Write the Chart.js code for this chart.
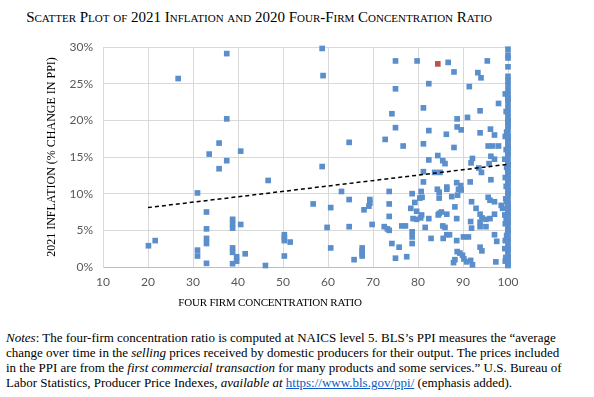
<!DOCTYPE html>
<html>
<head>
<meta charset="utf-8">
<script src="https://cdn.jsdelivr.net/npm/chart.js@4.4.1/dist/chart.umd.min.js"></script>
<style>
  body { margin: 0; width: 594px; height: 397px; background: #fff; position: relative; overflow: hidden; }
  #title { position: absolute; left: 6px; top: 7px; width: 506px; text-align: center;
    font: 15px "Liberation Serif", serif; font-variant: small-caps; line-height: 20px; color: #000; }
  #wrap { position: absolute; left: 0; top: 0; width: 594px; height: 300px; }
  #xtitle { position: absolute; left: 120px; width: 300px; top: 294px; text-align: center; white-space: nowrap;
    font: 11px "Liberation Serif", serif; letter-spacing: -0.2px; line-height: 16px; color: #000; }
  #notes { position: absolute; left: 6px; top: 330px; width: 506px;
    font: 13px "Liberation Serif", serif; line-height: 15px; color: #000; }
  #notes div { text-align: justify; text-align-last: justify; white-space: nowrap; }
  #notes div.last { text-align-last: left; }
  #notes a { color: #0b5bc9; text-decoration: underline; }
</style>
</head>
<body>
<div id="title">Scatter Plot of 2021 Inflation and 2020 Four-Firm Concentration Ratio</div>
<div id="wrap"><canvas id="scatterChart" width="594" height="300"></canvas></div>
<div id="xtitle">FOUR FIRM CONCENTRATION RATIO</div>
<div id="notes">
  <div><i>Notes</i>: The four-firm concentration ratio is computed at NAICS level 5. BLS’s PPI measures the “average</div>
  <div>change over time in the <i>selling</i> prices received by domestic producers for their output. The prices included</div>
  <div>in the PPI are from the <i>first commercial transaction</i> for many products and some services.” U.S. Bureau of</div>
  <div class="last">Labor Statistics, Producer Price Indexes, <i>available at</i> <a href="#">https://www.bls.gov/ppi/</a> (emphasis added).</div>
</div>
<script>
// four-firm concentration ratio (x) and 2021 inflation in % (y)
var concentration = [
  37.5, 26.7, 37.5, 35.8, 33.6, 37.5, 35.8, 40.6, 31.0, 33.0, 33.0, 33.0, 33.0, 33.0, 31.0, 31.0,
  20.1, 21.6, 38.8, 38.8, 38.8, 40.6, 38.8, 38.8, 38.8, 39.7, 39.7,
  58.7, 58.9, 75.0, 75.0, 74.2, 75.0, 72.7, 76.7, 64.7, 46.7, 58.7, 63.0, 64.7, 56.7, 60.6,
  69.3, 69.3, 69.1, 68.0, 73.6, 73.6, 73.6, 59.8, 64.7, 69.8, 72.5, 73.2, 73.6, 76.4, 77.2,
  50.3, 50.3, 50.3, 51.6, 50.3, 41.6, 46.1, 60.6, 65.8, 67.6, 67.6, 67.6, 67.6, 74.2, 75.8, 75.0, 77.5,
  79.8, 86.7, 88.0, 93.3, 94.0, 95.4, 82.4, 91.4, 81.2, 93.8, 97.9, 88.7, 91.0, 88.7, 89.6, 82.4,
  86.3, 93.8, 96.1, 97.0, 81.2, 88.0, 95.6, 96.6, 97.9, 82.4, 84.4, 85.5, 86.0, 91.8, 92.1, 93.5,
  96.2, 97.0, 95.8, 81.2, 81.2, 83.7, 84.9, 91.6, 94.1, 96.2, 88.6, 89.5, 89.0, 89.6, 86.4, 86.4,
  84.3, 84.7, 78.7, 80.7, 80.9, 87.5, 88.8, 84.7, 79.3, 80.4, 91.9, 95.6, 96.0, 97.0, 98.5, 98.8,
  88.2, 78.4, 79.7, 84.7, 84.5, 85.2, 86.4, 80.8, 78.9, 79.7, 80.6, 82.4, 88.6, 92.9, 93.8, 94.2,
  93.8, 95.1, 96.0, 93.8, 95.1, 97.0, 91.7, 91.9, 78.7, 81.6, 85.5, 86.0, 86.4, 85.6, 87.0, 78.7,
  78.7, 82.9, 88.6, 90.1, 91.2, 97.0, 97.5, 93.8, 94.2, 87.9, 88.2, 88.7, 89.3, 89.9, 90.2, 90.8,
  91.7, 92.1, 97.3,
  100, 100, 100, 100, 100, 100, 100, 100, 100, 100, 100, 100, 100, 100, 100, 100,
  100, 100, 100, 100, 100, 100, 100, 100, 100, 100, 100, 100, 100, 100, 100, 100,
  100, 100, 100, 100, 100, 100, 100, 100, 100, 100, 100, 100, 100, 100, 100, 100,
  100, 100, 100, 100, 100, 100, 100, 100, 100, 100, 100, 100, 100, 100, 100, 100,
  100, 100, 100,
  99.4, 99.4, 99.3, 99.4, 99.5, 99.3, 99.4, 99.4, 99.3, 99.5, 99.4,
  99.6, 99.7, 99.6, 99.7, 99.6, 99.7, 99.6, 99.7
];
var inflation = [
  29.1, 25.7, 20.2, 16.9, 15.4, 14.5, 13.4, 15.8, 10.1, 7.5, 5.2, 3.9, 3.2, 0.5, 2.3, 1.5,
  2.9, 3.6, 6.5, 5.9, 5.3, 5.8, 2.6, 2.0, 0.45, 1.4, 0.8,
  29.8, 26.1, 28.1, 24.3, 20.9, 19.0, 17.4, 16.5, 17.0, 11.8, 13.7, 10.3, 9.2, 8.6, 8.1,
  9.2, 8.7, 8.3, 7.8, 10.3, 8.6, 6.9, 5.4, 5.5, 5.8, 5.5, 5.2, 5.0, 5.6, 5.6,
  4.4, 4.0, 3.6, 3.4, 1.5, 1.8, 0.2, 2.6, 1.0, 2.6, 2.2, 1.8, 1.5, 3.2, 2.7, 1.2, 1.4,
  28.1, 27.9, 26.6, 26.5, 25.8, 28.1, 25.0, 24.6, 21.7, 21.3, 22.3, 20.2, 20.4, 19.1, 18.7, 18.6,
  18.1, 18.3, 18.8, 18.0, 16.8, 16.3, 16.5, 16.5, 16.5, 14.6, 15.2, 14.5, 14.1, 14.2, 14.8, 13.5,
  15.1, 14.7, 14.1, 13.0, 11.6, 12.9, 12.9, 11.6, 12.9, 11.9, 11.5, 11.1, 10.6, 10.5, 10.9, 10.6,
  10.6, 10.2, 10.0, 10.3, 9.5, 9.6, 9.8, 9.4, 8.8, 9.4, 8.9, 9.5, 9.1, 8.9, 8.4, 8.0,
  8.2, 8.0, 7.6, 7.3, 7.1, 7.5, 7.2, 7.1, 6.6, 6.5, 6.7, 6.6, 6.6, 8.0, 7.2, 6.7,
  6.1, 6.5, 6.6, 5.5, 5.5, 7.2, 6.2, 5.3, 4.8, 5.4, 5.6, 5.4, 4.4, 3.9, 4.4, 4.1,
  3.2, 3.9, 3.6, 4.1, 4.1, 4.4, 3.5, 2.7, 2.2, 0.6, 1.0, 2.1, 1.9, 1.6, 1.1, 0.7,
  0.9, 0.3, 0.7,
  29.7, 28.9, 28.5, 27.3, 26.0, 24.8, 24.1, 23.5, 22.9, 22.3, 21.6, 21.0, 20.5, 19.8, 19.2, 18.7,
  18.0, 17.4, 16.9, 16.2, 15.7, 15.1, 14.4, 13.9, 13.3, 12.6, 12.1, 11.5, 10.9, 10.4, 9.8, 9.1,
  8.6, 8.0, 7.5, 6.8, 6.3, 5.7, 5.1, 4.6, 3.9, 3.4, 2.8, 2.3, 1.7, 1.1, 0.6, 0.2,
  25.4, 23.0, 20.0, 17.7, 16.5, 15.4, 14.0, 12.9, 11.8, 10.1, 8.3, 7.2, 6.0, 4.9, 3.7, 2.5,
  1.4, 0.4, 19.5,
  23.6, 17.8, 14.7, 12.2, 9.3, 7.1, 5.9, 3.6, 2.5, 1.3, 0.8,
  21.2, 18.4, 16.0, 13.6, 11.0, 8.9, 6.6, 4.3
];
// highlighted industry (red marker)
var highlightX = [84.4];
var highlightY = [27.7];
// linear trend line end points
var trendX = [20, 100];
var trendY = [8.1, 14.0];

var xTicks = [10, 20, 30, 40, 50, 60, 70, 80, 90, 100];
var yTickLabels = ['0%', '5%', '10%', '15%', '20%', '25%', '30%'];

function toPoints(xs, ys) {
  return xs.map(function(x, i){ return { x: x, y: ys[i] }; });
}

var ctx = document.getElementById('scatterChart').getContext('2d');
var tickFont = { family: 'Lato, "Liberation Sans", sans-serif', size: 12 };

var myChart = new Chart(ctx, {
  type: 'scatter',
  data: {
    datasets: [{
      data: toPoints(trendX, trendY),
      showLine: true,
      borderColor: '#000',
      borderWidth: 1.5,
      borderDash: [4, 3],
      pointRadius: 0,
      fill: false
    }, {
      data: toPoints(highlightX, highlightY),
      pointStyle: 'rect',
      pointRadius: 4,
      pointBorderWidth: 0,
      backgroundColor: '#c0504d',
      clip: false
    }, {
      data: toPoints(concentration, inflation),
      pointStyle: 'rect',
      pointRadius: 4,
      pointBorderWidth: 0,
      backgroundColor: '#5b8fcc',
      clip: false
    }]
  },
  options: {
    responsive: false,
    animation: false,
    events: [],
    layout: { padding: { left: 0, top: 47, right: 86, bottom: 0 } },
    plugins: { legend: { display: false }, tooltip: { enabled: false } },
    scales: {
      x: {
        type: 'linear',
        min: 10, max: 100,
        afterBuildTicks: function(scale){ scale.ticks = xTicks.map(function(v){ return { value: v }; }); },
        afterFit: function(scale){ scale.height = 33; },
        grid: { color: '#d9d9d9', drawTicks: false },
        border: { color: '#bfbfbf' },
        ticks: { color: '#595959', font: tickFont, padding: 8, maxRotation: 0 }
      },
      y: {
        min: 0, max: 30,
        afterFit: function(scale){ scale.width = 103; },
        grid: { color: '#d9d9d9', drawTicks: false },
        border: { color: '#d9d9d9' },
        ticks: {
          stepSize: 5, color: '#595959', font: tickFont, padding: 10,
          callback: function(v){ return yTickLabels[v / 5]; }
        },
        title: {
          display: true,
          text: '2021 INFLATION (% CHANGE IN PPI)',
          color: '#000',
          font: { family: '"Liberation Serif", serif', size: 12 },
          padding: { top: 45, bottom: 0 }
        }
      }
    }
  }
});
</script>
</body>
</html>
